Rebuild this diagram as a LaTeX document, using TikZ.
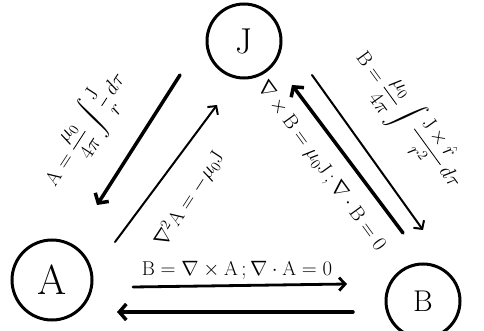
\documentclass[tikz,border=0pt]{standalone}
\usepackage{amsmath}
\usepackage{fontspec}
\usetikzlibrary{arrows.meta}

\begin{document}
\begin{tikzpicture}[x=1pt,y=-1pt,
    field/.style={draw, circle, line width=3pt, inner sep=0pt, minimum size=76pt,
      font=\fontsize{36}{36}\selectfont},
    fat/.style={line width=3.5pt, line cap=round, -{Straight Barb[length=7pt,width=16pt]}},
    slim/.style={line width=2pt, line cap=round, -{Straight Barb[length=6pt,width=13pt]}},
    law/.style={font=\fontsize{20}{22}\selectfont, inner sep=1pt}]
  \useasboundingbox (0,0) rectangle (484,331);
  % the three fields
  \node[field, minimum size=74pt] (J) at (244,41) {J};
  \node[field, minimum size=80pt, font=\fontsize{42}{42}\selectfont] (A) at (52,280) {A};
  \node[field, minimum size=74pt, font=\fontsize{30}{30}\selectfont] (B) at (423,301) {B};
  % ends of the arrows
  \coordinate (ja0) at (180,75);  \coordinate (ja1) at (97,205);
  \coordinate (aj0) at (115,242); \coordinate (aj1) at (217,105);
  \coordinate (jb0) at (312,75);  \coordinate (jb1) at (423,230);
  \coordinate (bj0) at (403,233); \coordinate (bj1) at (292,85);
  \coordinate (ab0) at (133,287); \coordinate (ab1) at (347,284);
  \coordinate (ba0) at (353,312); \coordinate (ba1) at (117,312);
  \draw[fat] (ja0) -- (ja1);
  \draw[slim] (aj0) -- (aj1);
  \draw[slim] (jb0) -- (jb1);
  \draw[fat] (bj0) -- (bj1);
  \draw[slim, line width=2.8pt] (ab0) -- (ab1);
  \draw[fat] (ba0) -- (ba1);
  % the laws
  \node[law, rotate=57] (lja) at (86,130)
    {$\mathrm{A}=\dfrac{\mu_0}{4\pi}\displaystyle\int\dfrac{\mathrm{J}}{r}\,d\tau$};
  \node[law, rotate=57] (laj) at (189,199) {$\nabla^2\mathrm{A}=-\mu_0\mathrm{J}$};
  \node[law, rotate=-54] (ljb) at (408,120)
    {$\mathrm{B}=\dfrac{\mu_0}{4\pi}\displaystyle\int\dfrac{\mathrm{J}\times\hat{r}}{r^2}\,d\tau$};
  \node[law, rotate=-54] (lbj) at (321,166) {$\nabla\times\mathrm{B}=\mu_0\mathrm{J}\,;\nabla\cdot\mathrm{B}=0$};
  \node[law] (lab) at (237,270) {$\mathrm{B}=\nabla\times\mathrm{A}\,;\nabla\cdot\mathrm{A}=0$};
\end{tikzpicture}
\end{document}
